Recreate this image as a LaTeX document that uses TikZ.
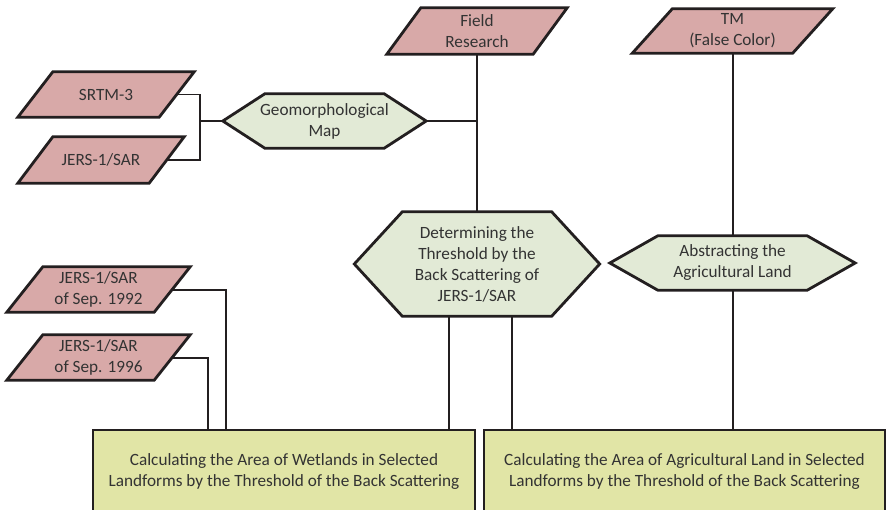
\documentclass[tikz,border=0pt]{standalone}
\usepackage{fontspec}
\setmainfont{Carlito}
\usetikzlibrary{backgrounds,calc}

\definecolor{inputfill}{HTML}{D8A9A8}
\definecolor{procfill}{HTML}{E2EAD6}
\definecolor{resultfill}{HTML}{E1E5A6}
\definecolor{edge}{HTML}{231F20}
\definecolor{ink}{HTML}{333333}

\tikzset{
  x=1pt, y=-1pt,
  lbl/.style={inner sep=0pt, align=center, text=ink,
    font=\fontsize{17.2}{21}\selectfont},
  outline/.style={draw=edge, line width=2.8pt, line join=miter},
  wire/.style={draw=edge, line width=2pt},
  thinwire/.style={draw=edge, line width=1.2pt},
}

% parallelogram behind a named node: #1 node, #2 slant
\newcommand\paraframe[2]{%
  \begin{pgfonlayer}{background}
    \path[outline, fill=inputfill] (#1.south west) -- ([xshift=#2]#1.north west)
      -- (#1.north east) -- ([xshift=-#2]#1.south east) -- cycle;
  \end{pgfonlayer}}
% elongated hexagon behind a named node: #1 node, #2 inset of the points
\newcommand\hexframe[2]{%
  \begin{pgfonlayer}{background}
    \path[outline, fill=procfill] (#1.west) -- ([xshift=#2]#1.north west)
      -- ([xshift=-#2]#1.north east) -- (#1.east)
      -- ([xshift=-#2]#1.south east) -- ([xshift=#2]#1.south west) -- cycle;
  \end{pgfonlayer}}

\begin{document}
\begin{tikzpicture}
\useasboundingbox (0,0) rectangle (888,509);

% data sources
\node[lbl, minimum width=176, minimum height=45] (srtm) at (106,94.5) {SRTM-3};
\paraframe{srtm}{35}
\node[lbl, minimum width=166, minimum height=46] (jers) at (101,160) {JERS-1/SAR};
\paraframe{jers}{35}
\node[lbl, minimum width=180, minimum height=46] (field) at (477,31) {Field\\Research};
\paraframe{field}{34}
\node[lbl, minimum width=200, minimum height=44] (tm) at (732.5,31) {TM\\(False Color)};
\paraframe{tm}{40}
\node[lbl, minimum width=183, minimum height=45] (j92) at (98.5,289.5) {JERS-1/SAR\\of Sep. 1992};
\paraframe{j92}{36}
\node[lbl, minimum width=183, minimum height=45] (j96) at (98.5,357.5) {JERS-1/SAR\\of Sep. 1996};
\paraframe{j96}{36}

% processing steps
\node[lbl, minimum width=203, minimum height=54] (geo) at (324.5,121) {Geomorphological\\Map};
\hexframe{geo}{42}
\node[lbl, minimum width=245, minimum height=104] (det) at (477,264)
  {Determining the\\Threshold by the\\Back Scattering of\\JERS-1/SAR};
\hexframe{det}{48}
\node[lbl, minimum width=245, minimum height=54] (abs) at (732.5,263)
  {Abstracting the\\Agricultural Land};
\hexframe{abs}{48}

% results
\node[lbl, outline, fill=resultfill, minimum width=382, minimum height=82] (wet) at (284,471)
  {Calculating the Area of Wetlands in Selected\\Landforms by the Threshold of the Back Scattering};
\node[lbl, outline, fill=resultfill, minimum width=401, minimum height=82] (agri) at (684.5,471)
  {Calculating the Area of Agricultural Land in Selected\\Landforms by the Threshold of the Back Scattering};

% connectors
\coordinate (join) at (200,121);
\draw[thinwire] ([xshift=-17]srtm.east) -| (join) |- ([xshift=-17]jers.east);
\draw[thinwire] (join) -- (geo.west);
\draw[wire] (geo.east) -- (geo.east -| field.south);
\draw[wire] (field.south) -- (det.north);
\draw[wire] (tm.south) -- (abs.north);
\draw[wire] (abs.south) -- (abs.south |- agri.north);
\draw[wire] ([xshift=-28]det.south) -- ([xshift=-28]det.south |- wet.north);
\draw[wire] ([xshift=35]det.south) -- ([xshift=35]det.south |- agri.north);
\draw[wire] ([xshift=-18]j92.east) -| ([xshift=-58]wet.north);
\draw[wire] ([xshift=-18]j96.east) -| ([xshift=-76]wet.north);
\end{tikzpicture}
\end{document}
